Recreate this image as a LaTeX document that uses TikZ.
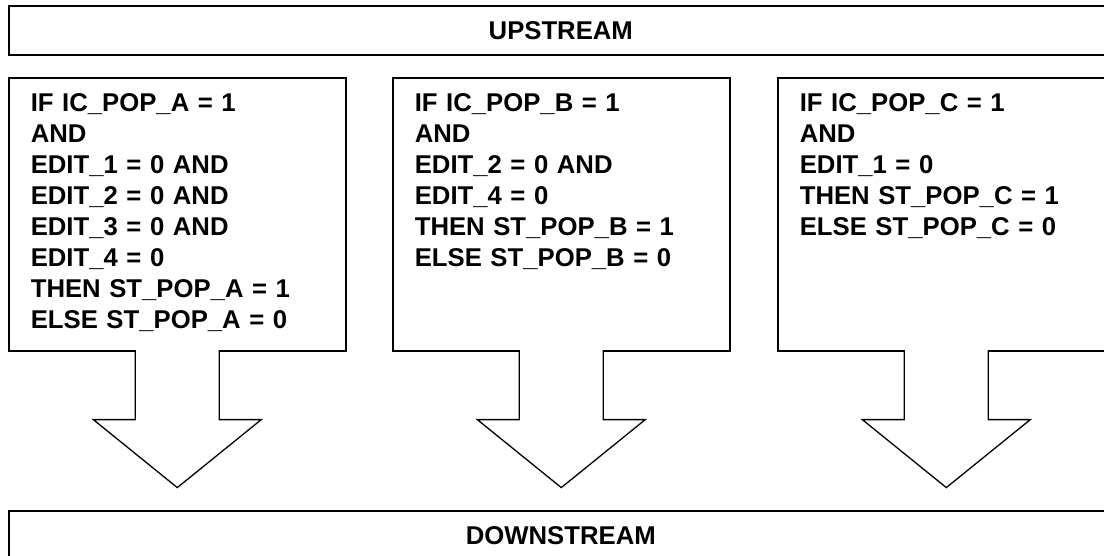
\documentclass[tikz,border=0pt]{standalone}
\usepackage{fontspec}
\setmainfont{Liberation Sans}

\begin{document}
\begin{tikzpicture}[x=1pt,y=1pt]

\tikzset{
  StreamStyle/.style = { rectangle, draw, line width=1.6pt, anchor=north west,
                        minimum width=1104pt, minimum height=49pt, inner sep=0pt,
                        font = \fontsize{25.7pt}{31pt}\selectfont\bfseries },
  RuleStyle/.style = { rectangle, draw, line width=1.6pt, anchor=north west,
                      align=left, text width=293pt, inner xsep=22pt, inner ysep=10pt,
                      text height=24pt, text depth=229pt,
                      font = \fontsize{25.7pt}{31pt}\selectfont\bfseries },
  ArrowStyle/.style = { draw, fill=white, line width=1.3pt, line join=miter } }

  \useasboundingbox (0,0) rectangle (1104,-556);

  \node[StreamStyle] (up) at (8, -5) {UPSTREAM};
  \node[StreamStyle] (down) at (8, -510) {DOWNSTREAM};

  \node[RuleStyle] (popA) at (8, -77) {IF IC\_POP\_A = 1\\AND\\EDIT\_1 = 0 AND\\EDIT\_2 = 0 AND\\EDIT\_3 = 0 AND\\EDIT\_4 = 0\\THEN ST\_POP\_A = 1\\ELSE ST\_POP\_A = 0};
  \node[RuleStyle] (popB) at (392, -77) {IF IC\_POP\_B = 1\\AND\\EDIT\_2 = 0 AND\\EDIT\_4 = 0\\THEN ST\_POP\_B = 1\\ELSE ST\_POP\_B = 0};
  \node[RuleStyle] (popC) at (777, -77) {IF IC\_POP\_C = 1\\AND\\EDIT\_1 = 0\\THEN ST\_POP\_C = 1\\ELSE ST\_POP\_C = 0};

  % block arrows down to the downstream box
  \foreach \pop in {popA, popB, popC}
    \draw[ArrowStyle] ([shift={(-42,1.5)}]\pop.south) -- ([shift={(-42,-68)}]\pop.south)
      -- ([shift={(-84,-68)}]\pop.south) -- ([shift={(0,-136)}]\pop.south)
      -- ([shift={(84,-68)}]\pop.south) -- ([shift={(42,-68)}]\pop.south)
      -- ([shift={(42,1.5)}]\pop.south);

\end{tikzpicture}
\end{document}
